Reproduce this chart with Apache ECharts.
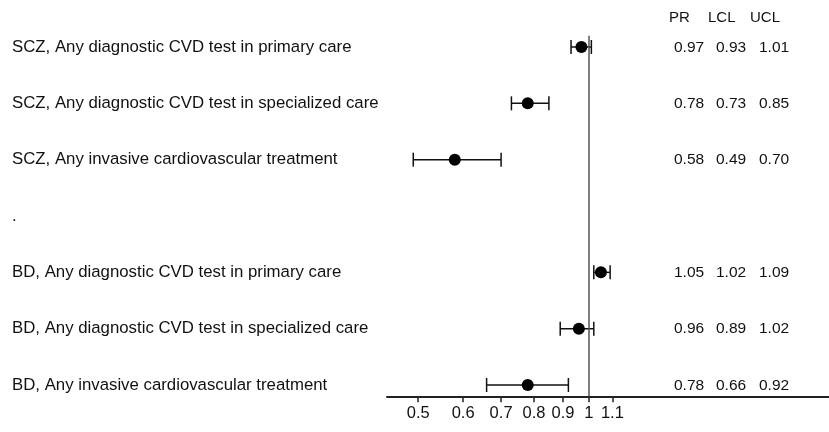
<!DOCTYPE html>
<html><head><meta charset="utf-8">
<script src="https://cdn.jsdelivr.net/npm/echarts@6/dist/echarts.min.js"></script>
<style>html,body{margin:0;padding:0;background:#fff}#c{width:829px;height:432px}</style>
</head><body><div id="c"></div>
<script>
const categories = [
  "SCZ, Any diagnostic CVD test in primary care",
  "SCZ, Any diagnostic CVD test in specialized care",
  "SCZ, Any invasive cardiovascular treatment",
  ".",
  "BD, Any diagnostic CVD test in primary care",
  "BD, Any diagnostic CVD test in specialized care",
  "BD, Any invasive cardiovascular treatment"
];
const rowIndex = [1, 2, 3, 5, 6, 7];
const pr  = [0.97, 0.78, 0.58, 1.05, 0.96, 0.78];
const lcl = [0.93, 0.73, 0.49, 1.02, 0.89, 0.66];
const ucl = [1.01, 0.85, 0.70, 1.09, 1.02, 0.92];
const prText  = ["0.97", "0.78", "0.58", "1.05", "0.96", "0.78"];
const lclText = ["0.93", "0.73", "0.49", "1.02", "0.89", "0.66"];
const uclText = ["1.01", "0.85", "0.70", "1.09", "1.02", "0.92"];
const tableHeaders = ["PR", "LCL", "UCL"];
const xTicks = [0.5, 0.6, 0.7, 0.8, 0.9, 1, 1.1];

const FONT = "'Liberation Sans', Arial, sans-serif";
const chart = echarts.init(document.getElementById('c'), null, {renderer: 'canvas'});
const ln = Math.log;

const option = {
  animation: false,
  backgroundColor: '#fff',
  grid: {left: 387, right: 0, top: 35.73, bottom: 35.73, containLabel: false},
  xAxis: {
    type: 'value', min: -0.82, max: 0.975,
    splitLine: {show: false},
    axisLine: {show: true, lineStyle: {color: '#222', width: 2}},
    axisTick: {show: true, length: 6, customValues: xTicks.map(ln), lineStyle: {color: '#222', width: 1.5}},
    axisLabel: {
      customValues: xTicks.map(ln), margin: 9,
      fontFamily: FONT, fontSize: 16.5, color: '#111',
      formatter: v => String(Math.round(Math.exp(v) * 10) / 10)
    }
  },
  yAxis: {
    type: 'value', inverse: true, min: 0.8, max: 7.2,
    splitLine: {show: false}, axisLine: {show: false}, axisTick: {show: false},
    axisLabel: {
      customValues: [1, 2, 3, 4, 5, 6, 7], align: 'left', margin: 375,
      fontFamily: FONT, fontSize: 16.8, color: '#111',
      formatter: v => categories[Math.round(v) - 1]
    }
  },
  series: [
    {
      type: 'custom',
      data: rowIndex.map((r, i) => [ln(lcl[i]), ln(ucl[i]), r]),
      renderItem: (params, api) => {
        const a = api.coord([api.value(0), api.value(2)]);
        const b = api.coord([api.value(1), api.value(2)]);
        const h = 7;
        const st = {stroke: '#111', lineWidth: 1.5};
        return {type: 'group', children: [
          {type: 'line', shape: {x1: a[0], y1: a[1], x2: b[0], y2: b[1]}, style: st},
          {type: 'line', shape: {x1: a[0], y1: a[1] - h, x2: a[0], y2: a[1] + h}, style: st},
          {type: 'line', shape: {x1: b[0], y1: b[1] - h, x2: b[0], y2: b[1] + h}, style: st}
        ]};
      },
      z: 2
    },
    {
      type: 'scatter',
      data: rowIndex.map((r, i) => [ln(pr[i]), r]),
      symbol: 'circle', symbolSize: 12,
      itemStyle: {color: '#000', opacity: 1},
      z: 3,
      markLine: {
        silent: true, symbol: 'none', label: {show: false},
        lineStyle: {color: '#555', width: 1.5, type: 'solid'},
        data: [{xAxis: 0}]
      }
    }
  ]
};
chart.setOption(option);

const colX = [674, 716, 759];
const headX = [669, 708, 750];
const graphics = [];
tableHeaders.forEach((t, j) => graphics.push({
  type: 'text', x: headX[j], y: 17.5,
  style: {text: t, font: '15px ' + FONT, fill: '#111', verticalAlign: 'middle', align: 'left'}
}));
rowIndex.forEach((r, i) => {
  const y = chart.convertToPixel({yAxisIndex: 0}, r) + 0.5;
  [prText[i], lclText[i], uclText[i]].forEach((t, j) => graphics.push({
    type: 'text', x: colX[j], y: y,
    style: {text: t, font: '15.5px ' + FONT, fill: '#111', verticalAlign: 'middle', align: 'left'}
  }));
});
chart.setOption({graphic: graphics});
</script></body></html>
